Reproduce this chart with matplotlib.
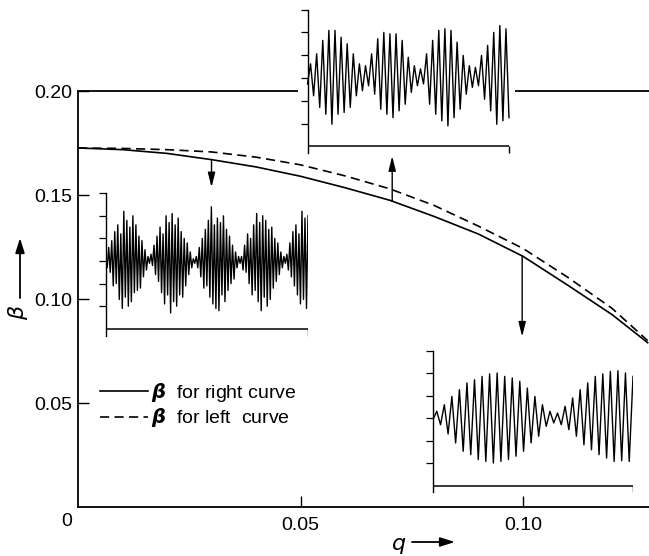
import numpy as np
import matplotlib
matplotlib.use("Agg")
import matplotlib.pyplot as plt
from matplotlib.lines import Line2D

# ---------------- data ----------------
q = [0.0, 0.01, 0.02, 0.03, 0.04, 0.05, 0.06, 0.07, 0.08, 0.09, 0.10, 0.11, 0.12, 0.128]
beta_right = [0.1726, 0.1718, 0.1700, 0.1670, 0.1635, 0.1590, 0.1535, 0.1475,
              0.1397, 0.1312, 0.1205, 0.1067, 0.0925, 0.0790]
beta_left = [0.1726, 0.1724, 0.1718, 0.1707, 0.1682, 0.1645, 0.1592, 0.1530,
             0.1450, 0.1350, 0.1243, 0.1105, 0.0955, 0.0800]

x_ticks = [0.05, 0.10]
x_tick_labels = ["0.05", "0.10"]
y_ticks = [0.05, 0.10, 0.15, 0.20]
y_tick_labels = ["0.05", "0.10", "0.15", "0.20"]
legend_labels = [r"$\boldsymbol{\beta}$  for right curve",
                 r"$\boldsymbol{\beta}$  for left  curve"]

# arrows from the solid curve to the insets
arrow_q = [0.030, 0.0706, 0.0998]
arrow_end = [0.1537, 0.1687, 0.0819]

# inset signals: successive extrema (in tick units)
inset_left = [
    0.1, -0.3, 0.6, -0.5, 0.9, -1.1, 1.3, -1.0, 1.6, -1.7, 1.2, -2.1, 2.2, -1.6, 1.8,
    -2.0, 1.5, -1.8, 2.0, -1.4, 1.6, -1.3, 1.1, -1.2, 0.9, -0.7, 0.5, -0.4, 0.2, -0.1,
    0.3, -0.2, 0.7, -0.6, 1.1, -0.9, 1.5, -1.4, 1.2, -1.9, 2.0, -1.5, 1.7, -2.3, 2.1,
    -1.8, 1.6, -2.0, 1.9, -1.5, 1.3, -1.6, 1.0, -1.1, 0.8, -0.6, 0.4, -0.3, 0.1, -0.1,
    0.2, -0.3, 0.6, -0.7, 1.0, -1.2, 1.4, -1.1, 1.8, -1.6, 2.4, -1.9, 1.6, -2.1, 1.9,
    -2.2, 1.7, -1.5, 2.0, -1.8, 1.4, -1.3, 1.1, -1.0, 0.7, -0.8, 0.4, -0.3, 0.2, -0.1,
    0.2, -0.4, 0.7, -0.5, 1.2, -1.0, 1.0, -1.5, 1.6, -1.3, 2.1, -1.8, 1.7, -2.2, 2.0,
    -1.6, 1.8, -2.0, 1.4, -1.7, 1.5, -1.2, 1.0, -0.9, 0.8, -0.6, 0.4, -0.3, 0.2, -0.1,
    0.3, -0.4, 0.8, -0.7, 1.3, -1.1, 1.6, -1.5, 1.2, -1.9, 2.2, -1.7, 1.9, -2.1, 2.0,
]
inset_top = [
    -0.26, 0.62, -0.78, 1.06, -1.29, 1.65, -1.59, 2.09, -2.03, 2.09, -1.59, 1.79, -1.51,
    1.50, -1.29, 1.06, -0.78, 0.62, -0.56, 0.54, -0.34,
    1.06, -0.71, 1.72, -1.37, 2.00, -1.59, 1.94, -1.74, 1.94, -1.44, 1.65, -1.15, 0.91,
    -0.63, 0.54, -0.34, 0.40, -0.26,
    1.06, -1.15, 1.65, -1.59, 2.09, -1.88, 2.16, -2.10, 2.09, -1.74, 1.57, -1.37, 0.99,
    -0.71, 0.54, -0.41, 0.47, -0.34,
    0.99, -0.93, 1.43, -1.44, 2.00, -2.03, 2.30, -1.88, 2.16, -1.74,
]
inset_right = [
    -0.07, 0.30, -0.30, 0.59, -0.71, 0.96, -1.11, 1.26, -1.48, 1.56, -1.63, 1.70, -1.85,
    1.85, -1.93, 1.96, -2.00, 2.00, -1.93, 1.85, -1.85, 1.78, -1.70, 1.63, -1.48, 1.33,
    -1.11, 0.96, -0.81, 0.59, -0.37, 0.30, -0.22, 0.22, -0.30, 0.52, -0.52, 0.89, -0.81,
    1.26, -1.19, 1.56, -1.41, 1.85, -1.63, 1.96, -1.78, 2.07, -1.93, 2.10, -1.90, 2.00,
    -1.93, 1.85,
]
inset_ticks = [-2, -1, 0, 1, 2, 3]

# ---------------- layout ----------------
plt.rcParams['font.family'] = ['Liberation Sans', 'DejaVu Sans']
plt.rcParams['mathtext.fontset'] = 'dejavusans'
W, H = 649, 556
fig = plt.figure(figsize=(W / 100, H / 100), dpi=100)


def fr(x0, y0, x1, y1):
    return [x0 / W, 1 - y1 / H, (x1 - x0) / W, (y1 - y0) / H]


ax = fig.add_axes(fr(78, 91, 649, 507))
ax.set_xlim(0, 0.1283)
ax.set_ylim(0, 0.20)
l1, = ax.plot(q, beta_right, color='black', lw=1.2)
l2, = ax.plot(q, beta_left, color='black', lw=1.2, ls=(0, (5.5, 3.2)))
for s in ['left', 'bottom', 'top']:
    ax.spines[s].set_linewidth(1.3)
ax.spines['right'].set_visible(False)
ax.set_xticks(x_ticks)
ax.set_xticklabels(x_tick_labels)
ax.set_yticks(y_ticks)
ax.set_yticklabels(y_tick_labels)
ax.tick_params(axis='both', direction='in', length=8, width=1.0, labelsize=14)
ax.tick_params(axis='x', pad=7)
ax.tick_params(axis='y', pad=4)
fig.text(67 / W, 1 - 522 / H, "0", fontsize=14, ha='center', va='center')

leg = ax.legend([l1, l2], legend_labels, loc='upper left',
                bbox_to_anchor=((100 - 78) / 571, (507 - 381) / 416),
                frameon=False, borderpad=0, borderaxespad=0, fontsize=14,
                handlelength=2.45, handletextpad=0.15, labelspacing=0.12)

for qa, be in zip(arrow_q, arrow_end):
    b0 = float(np.interp(qa, q, beta_right))
    ax.annotate('', xy=(qa, be), xytext=(qa, b0), xycoords='data',
                arrowprops=dict(arrowstyle='-|>,head_length=0.8,head_width=0.2',
                                color='black', lw=1.0, shrinkA=0, shrinkB=0,
                                mutation_scale=11))

# axis labels with arrows
fig.text(18 / W, 1 - 312 / H, r"$\beta$", rotation=90, fontsize=16,
         ha='center', va='center')
ax.annotate('', xy=(20 / W, 1 - 238 / H), xytext=(20 / W, 1 - 298 / H),
            xycoords='figure fraction',
            arrowprops=dict(arrowstyle='-|>,head_length=0.8,head_width=0.25',
                            color='black', lw=1.3, shrinkA=0, shrinkB=0,
                            mutation_scale=11))
fig.text(399 / W, 1 - 545 / H, r"$q$", fontsize=16, ha='center', va='center')
ax.annotate('', xy=(455 / W, 1 - 542 / H), xytext=(412 / W, 1 - 542 / H),
            xycoords='figure fraction',
            arrowprops=dict(arrowstyle='-|>,head_length=0.8,head_width=0.25',
                            color='black', lw=1.3, shrinkA=0, shrinkB=0,
                            mutation_scale=11))


def make_inset(px_left, px_right, px_center, unit, values, ml=0, mr=0):
    n = len(values)
    step = (px_right - px_left) / (n - 1)
    top = px_center - 3.35 * unit
    bot = px_center + 3.35 * unit
    ia = fig.add_axes(fr(px_left - ml, top, px_right + mr, bot))
    ia.set_facecolor('white')
    ia.set_xlim(-ml / step, n - 1 + mr / step)
    ia.set_ylim(-3.35, 3.35)
    ia.plot(np.arange(n), values, color='black', lw=1.0)
    for s in ['top', 'right', 'bottom']:
        ia.spines[s].set_visible(False)
    ia.spines['left'].set_position(('data', 0))
    ia.spines['left'].set_bounds(-3.3, 3)
    ia.spines['left'].set_linewidth(1.0)
    ia.set_yticks(inset_ticks)
    ia.set_yticklabels([])
    ia.set_xticks([])
    ia.tick_params(axis='y', direction='out', length=5, width=0.9)
    ia.hlines(-3, 0, n - 1, color='black', lw=1.1)
    ia.vlines(n - 1, -3.3, -3, color='black', lw=1.0)
    return ia


make_inset(105.7, 308, 261, 22.6, inset_left)
make_inset(307.5, 509, 78, 22.8, inset_top, ml=9.5, mr=6)
make_inset(433, 633, 418, 22.5, inset_right)

fig.savefig("out.png", dpi=100)
